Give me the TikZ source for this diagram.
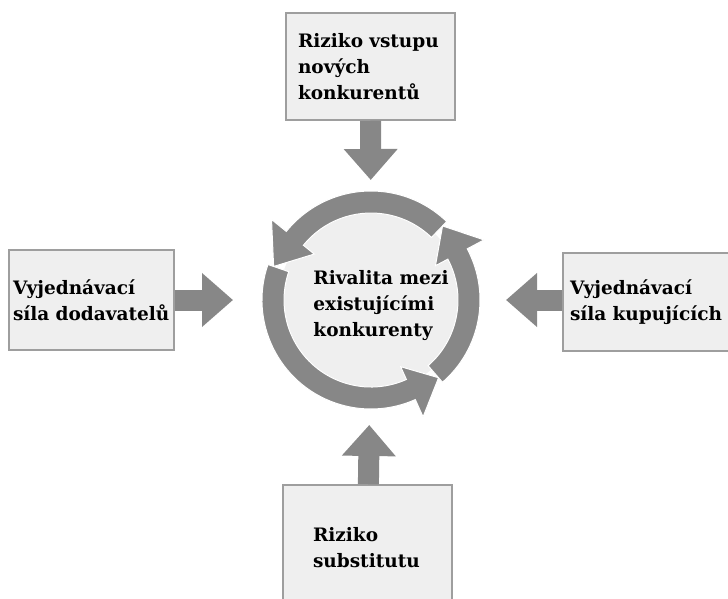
\documentclass[tikz,border=0pt]{standalone}
\usepackage{fontspec}
\setmainfont{DejaVu Serif}
\usetikzlibrary{arrows.meta}

\definecolor{boxfill}{RGB}{239,239,239}
\definecolor{boxline}{RGB}{158,158,158}
\definecolor{forcegray}{RGB}{135,135,135}

\tikzset{
  force/.style={draw=boxline, fill=boxfill, line width=1.5pt, align=left,
    font=\bfseries\fontsize{18.5}{26}\selectfont, inner ysep=0pt, outer sep=0pt},
  hub/.style={circle, minimum size=218pt, inner sep=0pt, outer sep=0pt},
  push/.style={draw=forcegray, line width=21pt, shorten <=0.75pt,
    -{Triangle[length=31pt,width=52pt]}},
}

\begin{document}
\begin{tikzpicture}[x=1pt, y=-1pt]
\useasboundingbox (0,0) rectangle (728,599);

% the five forces
\node[force, text width=145pt, inner xsep=12pt, minimum height=107pt] (entrants) at (370.5,66.5) {Riziko~vstupu\\nových\\konkurentů};
\node[force, text width=157pt, inner xsep=4pt, minimum height=100pt] (suppliers) at (91.5,300) {Vyjednávací\\síla~dodavatelů};
\node[force, text width=170pt, inner xsep=7pt, minimum height=98pt, anchor=west] (buyers) at (563,302) {Vyjednávací\\síla~kupujících};
\node[force, text width=109pt, inner xsep=30pt, minimum height=126pt, anchor=north] (substitutes) at (367.5,485) {Riziko\\substitutu};

% rivalry ring
\node[hub] (rival) at (371,300) {};
\fill[boxfill] (rival.center) circle[radius=92];
\begin{scope}[shift={(371,300)}, y=1pt]
  \foreach \a/\b/\c in {46/141/161, 161/294/311, 311/388/406}
    \filldraw[fill=forcegray, draw=white, line width=1pt] (\a:109) arc[start angle=\a, end angle=\b, radius=109]
      -- (\b:128) -- (\c:103) -- (\b:73) -- (\b:87) arc[start angle=\b, end angle=\a, radius=87] -- cycle;
\end{scope}
\node[font=\bfseries\fontsize{18.5}{26}\selectfont, align=left] (rivaltext) at (381,306) {Rivalita~mezi\\existujícími\\konkurenty};

% arrows into the ring
\draw[push, shorten >=11pt] (entrants) -- (rival);
\draw[push, shorten >=16pt] (substitutes) -- (rival);
\draw[push, shorten >=29pt] (suppliers.east |- rival) -- (rival.west);
\draw[push, shorten >=26pt] (buyers.west |- rival) -- (rival.east);
\end{tikzpicture}
\end{document}
